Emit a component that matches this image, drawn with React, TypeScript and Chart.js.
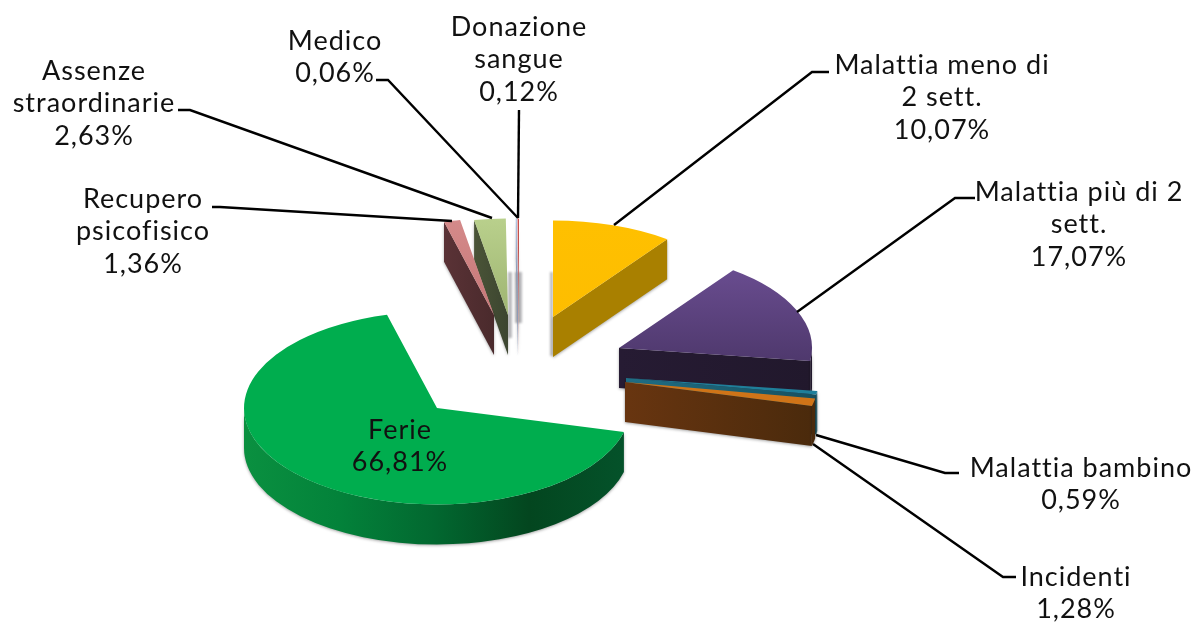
import React, { useEffect, useRef } from "react";
import { Chart, registerables } from "chart.js";

Chart.register(...registerables);

const categoryLines: string[][] = [
  ["Malattia meno di", "2 sett."],
  ["Malattia più di 2", "sett."],
  ["Malattia bambino"],
  ["Incidenti"],
  ["Ferie"],
  ["Recupero", "psicofisico"],
  ["Assenze", "straordinarie"],
  ["Medico"],
  ["Donazione", "sangue"],
];
const values = [10.07, 17.07, 0.59, 1.28, 66.81, 1.36, 2.63, 0.06, 0.12];

// styling
const topFrom = ["#ffc000", "#6e5096", "#1f7f9a", "#cf7418", "#00ad4e", "#d48a8a", "#b9d08c", "#7f9fd0", "#c8504d"];
const topTo = ["#fdbd00", "#4e386c", "#1f7f9a", "#cf7418", "#00ad4e", "#c47474", "#9ab06e", "#7f9fd0", "#c8504d"];
const wallStops: string[][] = [
  ["#a98000", "#a98000"],
  ["#261b33", "#21182c"],
  ["#1f6e85", "#17505f"],
  ["#683510", "#4a2a0c"],
  ["#0a9040", "#03823a", "#026830", "#03461f", "#04522a"],
  ["#5a3236", "#4a2a2c"],
  ["#4a5437", "#3c4530"],
  ["#8a9ab8", "#8a9ab8"],
  ["#d8a0a0", "#e4c0c0"],
];
const drawOrder = [8, 7, 6, 5, 0, 1, 2, 3, 4];
const explodeX = [116, 182, 189, 188, 0, 57, 71, 81, 82];
const explodeY = [-91, -60, -30, -26, 0, -93, -93, -93, -93];
const tilt = 0.5;
const depth = 40;

// soft grey ghost bands behind the narrow slices: [x, y, width, height]
const ghosts: number[][] = [
  [508, 272, 4, 66],
  [515, 272, 7, 51],
  [550, 272, 3, 84],
];

const labelCenterX = [942, 1079, 1081, 1076, 400, 143, 94, 335, 519];
const labelFirstY = [65, 192, 468, 577, 430, 199, 71, 41, 27];
const lineStep = 32.5;
const leaders: number[][][] = [
  [[614, 225], [812, 72], [829, 72]],
  [[797, 312], [955, 198], [975, 198]],
  [[816, 435], [945, 473], [959, 473]],
  [[813, 444], [1003, 577], [1016, 577]],
  [],
  [[452, 221], [220, 207], [212, 207]],
  [[492, 218], [190, 110], [178, 110]],
  [[518, 218], [388, 80], [376, 80]],
  [[518, 218], [519, 110]],
];
const labelFont = "27px Lato, 'Noto Sans', sans-serif";
const labelSpacing = "1px";

const pie3d = {
  id: "pie3d",
  beforeDatasetDraw(chart: any) {
    const ctx = chart.ctx as CanvasRenderingContext2D;
    const arcs = chart.getDatasetMeta(0).data;

    ctx.save();
    ctx.filter = "blur(1px)";
    ctx.fillStyle = "rgba(130,130,135,0.55)";
    for (const g of ghosts) ctx.fillRect(g[0], g[1], g[2], g[3]);
    ctx.restore();

    for (const i of drawOrder) {
      const arc = arcs[i];
      const R = arc.outerRadius;
      const cx = arc.x + explodeX[i];
      const cy = arc.y + explodeY[i];
      const ry = R * tilt;
      const s = arc.startAngle;
      const e = arc.endAngle;
      const px = (a: number) => cx + R * Math.cos(a);
      const py = (a: number) => cy + ry * Math.sin(a);

      const xs = [cx, px(s), px(e)];
      if (s <= 0 && e >= 0) xs.push(cx + R);
      if (s <= Math.PI && e >= Math.PI) xs.push(cx - R);
      const x0 = Math.min(...xs);
      const x1 = Math.max(...xs);
      const grad = ctx.createLinearGradient(x0, 0, Math.max(x1, x0 + 1), 0);
      wallStops[i].forEach((c, j) => grad.addColorStop(j / (wallStops[i].length - 1), c));

      ctx.save();
      ctx.fillStyle = grad;
      ctx.shadowColor = "rgba(0,0,0,0.35)";
      ctx.shadowBlur = 3;
      ctx.shadowOffsetY = 1;

      const face = (a: number) => {
        ctx.beginPath();
        ctx.moveTo(cx, cy);
        ctx.lineTo(px(a), py(a));
        ctx.lineTo(px(a), py(a) + depth);
        ctx.lineTo(cx, cy + depth);
        ctx.closePath();
        ctx.fill();
      };
      if (Math.cos(s) < 0) face(s);
      if (Math.cos(e) > 0) face(e);

      const w0 = Math.max(s, 0);
      const w1 = Math.min(e, Math.PI);
      if (w1 > w0) {
        ctx.beginPath();
        ctx.ellipse(cx, cy, R, ry, 0, w0, w1);
        ctx.ellipse(cx, cy + depth, R, ry, 0, w1, w0, true);
        ctx.closePath();
        ctx.fill();
      }
      ctx.restore();

      ctx.save();
      ctx.translate(cx, cy);
      ctx.scale(1, tilt);
      ctx.translate(-arc.x, -arc.y);
      arc.draw(ctx);
      ctx.restore();
    }
    return false;
  },
  afterDraw(chart: any) {
    const ctx = chart.ctx as CanvasRenderingContext2D;
    ctx.save();
    ctx.strokeStyle = "#000";
    ctx.lineWidth = 2.4;
    for (const pts of leaders) {
      if (!pts.length) continue;
      ctx.beginPath();
      pts.forEach((p, j) => (j ? ctx.lineTo(p[0], p[1]) : ctx.moveTo(p[0], p[1])));
      ctx.stroke();
    }
    ctx.fillStyle = "#111";
    ctx.font = labelFont;
    (ctx as any).letterSpacing = labelSpacing;
    ctx.textAlign = "center";
    ctx.textBaseline = "middle";
    categoryLines.forEach((lines, i) => {
      const all = [...lines, values[i].toFixed(2).replace(".", ",") + "%"];
      all.forEach((t, j) => ctx.fillText(t, labelCenterX[i], labelFirstY[i] + j * lineStep));
    });
    ctx.restore();
  },
};

export default function App() {
  const ref = useRef<HTMLCanvasElement>(null);
  useEffect(() => {
    const chart = new Chart(ref.current as HTMLCanvasElement, {
      type: "pie",
      data: {
        labels: categoryLines.map((l) => l.join(" ")),
        datasets: [
          {
            data: values,
            borderWidth: 0,
            backgroundColor: (c: any) => {
              const area = c.chart.chartArea;
              const i = c.dataIndex;
              if (!area) return topFrom[i];
              const g = c.chart.ctx.createLinearGradient(0, area.top, 0, (area.top + area.bottom) / 2 + 30);
              g.addColorStop(0, topFrom[i]);
              g.addColorStop(1, topTo[i]);
              return g;
            },
          },
        ],
      },
      options: {
        responsive: false,
        animation: false,
        layout: { padding: { left: 244, right: 574, top: 215, bottom: 21 } },
        plugins: { legend: { display: false }, tooltip: { enabled: false } },
      },
      plugins: [pie3d],
    } as any);
    return () => chart.destroy();
  }, []);
  return (
    <div style={{ position: "absolute", left: 0, top: 0 }}>
      <canvas ref={ref} width={1204} height={622} style={{ display: "block" }} />
    </div>
  );
}
